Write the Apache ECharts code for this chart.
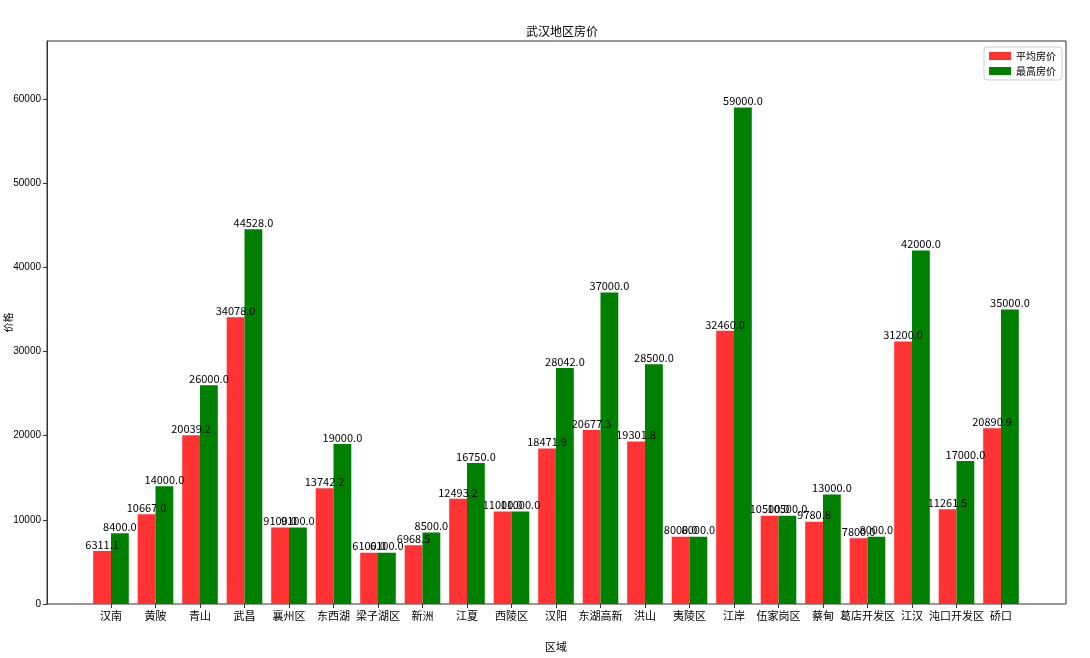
<!DOCTYPE html>
<html>
<head>
<meta charset="utf-8">
<title>武汉地区房价</title>
<script src="https://cdn.jsdelivr.net/npm/echarts@6/dist/echarts.min.js"></script>
<style>
  html, body { margin: 0; padding: 0; background: #fff; }
  #main { width: 1090px; height: 658px; }
</style>
</head>
<body>
<div id="main"></div>
<script>
// 区域 / 平均房价 / 最高房价
const districts = ['汉南', '黄陂', '青山', '武昌', '襄州区', '东西湖', '梁子湖区', '新洲', '江夏', '西陵区',
  '汉阳', '东湖高新', '洪山', '夷陵区', '江岸', '伍家岗区', '蔡甸', '葛店开发区', '江汉', '沌口开发区', '硚口']
const avgPrice = [6311.1, 10667.0, 20039.2, 34078.0, 9100.0, 13742.2, 6100.0, 6968.5, 12493.2, 11000.0,
  18471.9, 20677.3, 19301.8, 8000.0, 32460.0, 10500.0, 9780.8, 7800.0, 31200.0, 11261.5, 20890.9]
const maxPrice = [8400, 14000, 26000, 44528, 9100, 19000, 6100, 8500, 16750, 11000,
  28042, 37000, 28500, 8000, 59000, 10500, 13000, 8000, 42000, 17000, 35000]
const yTicks = { min: 0, max: 66900, step: 10000 }

const font = '"Noto Sans CJK SC", "Liberation Sans", sans-serif'
const valueLabel = {
  show: true,
  position: 'top',
  distance: 1,
  color: '#000',
  fontSize: 11,
  fontFamily: font,
  formatter: p => p.value.toFixed(1)
}

const chart = echarts.init(document.getElementById('main'))
chart.setOption({
  animation: false,
  textStyle: { fontFamily: font },
  title: {
    text: '武汉地区房价',
    left: 557,
    textAlign: 'center',
    top: 20,
    textStyle: { fontSize: 12, fontWeight: 'normal', color: '#000' }
  },
  legend: {
    orient: 'vertical',
    right: 28,
    top: 47,
    padding: [4, 6, 4, 5],
    itemGap: 5,
    itemWidth: 22,
    itemHeight: 8,
    icon: 'rect',
    borderColor: '#ccc',
    borderWidth: 1,
    borderRadius: 3,
    textStyle: { fontSize: 10, color: '#000' },
    data: ['平均房价', '最高房价']
  },
  grid: [
    // outer frame (matplotlib spines)
    { left: 47, right: 24, top: 41, bottom: 54, show: true, borderColor: '#333', borderWidth: 1,
      containLabel: false, outerBoundsMode: 'none' },
    // category band area, centres aligned with the ticks
    { left: 88.75, right: 66.75, top: 41, bottom: 54, containLabel: false, outerBoundsMode: 'none' }
  ],
  xAxis: [
    { type: 'value', gridIndex: 0, show: false },
    {
      type: 'category',
      gridIndex: 1,
      data: districts,
      name: '区域',
      nameLocation: 'middle',
      nameGap: 37,
      nameMoveOverlap: false,
      nameTextStyle: { fontSize: 11, color: '#000' },
      axisLine: { show: false },
      axisTick: { show: true, alignWithLabel: true, length: 4, lineStyle: { color: '#333' } },
      axisLabel: { interval: 0, fontSize: 11, color: '#000', margin: 6 }
    }
  ],
  yAxis: [
    {
      type: 'value',
      gridIndex: 0,
      min: yTicks.min,
      max: yTicks.max,
      interval: yTicks.step,
      name: '价格',
      nameLocation: 'middle',
      nameRotate: 90,
      nameGap: 34,
      nameMoveOverlap: false,
      nameTextStyle: { fontSize: 10, color: '#000' },
      axisLine: { show: true, lineStyle: { color: '#333' } },
      axisTick: { show: true, length: 4, lineStyle: { color: '#333' } },
      axisLabel: {
        showMaxLabel: false, fontSize: 10, color: '#000', margin: 6,
        fontFamily: '"Liberation Sans", sans-serif',
        formatter: v => String(v)
      },
      splitLine: { show: false }
    },
    { type: 'value', gridIndex: 1, min: yTicks.min, max: yTicks.max, show: false, splitLine: { show: false } }
  ],
  series: [
    {
      name: '平均房价',
      type: 'bar',
      xAxisIndex: 1,
      yAxisIndex: 1,
      data: avgPrice,
      barWidth: 17.8,
      barGap: '0%',
      itemStyle: { color: '#ff3333' },
      label: valueLabel
    },
    {
      name: '最高房价',
      type: 'bar',
      xAxisIndex: 1,
      yAxisIndex: 1,
      data: maxPrice,
      barWidth: 17.8,
      barGap: '0%',
      itemStyle: { color: '#008000' },
      label: valueLabel
    }
  ]
})
</script>
</body>
</html>
